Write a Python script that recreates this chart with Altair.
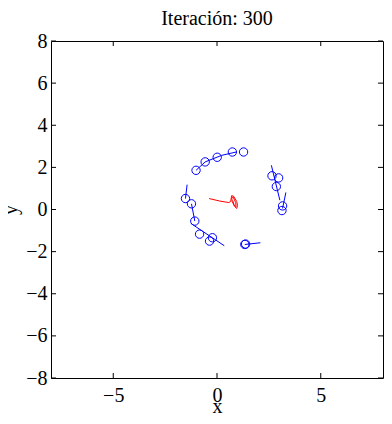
import altair as alt
import pandas as pd

# Agent positions (circles)
circ_x = [-1.01, -0.57, 0.01, 0.74, 1.28,
          2.65, 2.97, 2.86, 3.16, 3.13,
          -1.52, -1.23, -1.07, -0.84, -0.36, -0.22,
          1.34, 1.38]
circ_y = [1.86, 2.26, 2.48, 2.73, 2.73,
          1.60, 1.50, 1.09, 0.17, -0.05,
          0.52, 0.27, -0.55, -1.17, -1.50, -1.34,
          -1.66, -1.64]

# Heading / trail segments
seg_x0 = [-1.01, -0.57, 0.22, 2.62, 3.32, -1.44, -1.23, -1.26, 1.34]
seg_y0 = [1.86, 2.26, 2.57, 2.10, 0.81, 1.18, 0.27, -0.66, -1.66]
seg_x1 = [-0.57, 0.22, 0.93, 3.03, 3.16, -1.52, -1.07, 0.35, 2.09]
seg_y1 = [2.26, 2.57, 2.73, 0.44, 0.05, 0.52, -0.55, -1.72, -1.58]

# Red trajectory
traj_x = [-0.38, 0.14, 0.57, 0.66, 0.69, 0.71, 0.81, 0.95, 0.99, 0.95, 0.85,
          0.73, 0.71, 0.78, 0.90, 0.92, 0.83, 0.76]
traj_y = [0.52, 0.40, 0.33, 0.38, 0.57, 0.66, 0.62, 0.38, 0.19, 0.05, 0.14,
          0.38, 0.57, 0.59, 0.33, 0.14, 0.19, 0.43]

x_ticks = [-5, 0, 5]
y_ticks = [-8, -6, -4, -2, 0, 2, 4, 6, 8]

W, H = 332, 337
FONT = "Liberation Serif"
TL = 5

xs = alt.Scale(domain=[-8, 8], nice=False, zero=False)
ys = alt.Scale(domain=[-8, 8], nice=False, zero=False)

circ_df = pd.DataFrame({"x": circ_x, "y": circ_y})
seg_df = pd.DataFrame({"x": seg_x0, "y": seg_y0, "x2": seg_x1, "y2": seg_y1})
traj_df = pd.DataFrame({"x": traj_x, "y": traj_y, "o": list(range(len(traj_x)))})
xt_df = pd.DataFrame({"t": x_ticks})
yt_df = pd.DataFrame({"t": y_ticks})

xaxis = alt.Axis(values=x_ticks, ticks=False, tickSize=0, domain=False, grid=False,
                 labelFont=FONT, labelFontSize=20, labelColor="black", labelPadding=7,
                 title="x", titleFont=FONT, titleFontSize=20, titleFontWeight="normal",
                 titleColor="black", titlePadding=-9)
yaxis = alt.Axis(values=y_ticks, ticks=False, tickSize=0, domain=False, grid=False,
                 labelFont=FONT, labelFontSize=20, labelColor="black", labelPadding=4,
                 title="y", titleFont=FONT, titleFontSize=20, titleFontWeight="normal",
                 titleColor="black", titlePadding=5)

segs = alt.Chart(seg_df).mark_rule(color="#0000ff", strokeWidth=1).encode(
    x=alt.X("x:Q", scale=xs, axis=xaxis),
    y=alt.Y("y:Q", scale=ys, axis=yaxis),
    x2="x2:Q", y2="y2:Q")

circles = alt.Chart(circ_df).mark_point(shape="circle", filled=False, color="#0000ff",
                                        size=70, strokeWidth=1, opacity=1).encode(
    x=alt.X("x:Q", scale=xs), y=alt.Y("y:Q", scale=ys))

traj = alt.Chart(traj_df).mark_line(color="#ff0000", strokeWidth=1).encode(
    x=alt.X("x:Q", scale=xs), y=alt.Y("y:Q", scale=ys), order="o:Q")

xt_bot = alt.Chart(xt_df).mark_rule(color="black").encode(
    x=alt.X("t:Q", scale=xs), y=alt.value(H), y2=alt.value(H - TL))
xt_top = alt.Chart(xt_df).mark_rule(color="black").encode(
    x=alt.X("t:Q", scale=xs), y=alt.value(0), y2=alt.value(TL))
yt_left = alt.Chart(yt_df).mark_rule(color="black").encode(
    y=alt.Y("t:Q", scale=ys), x=alt.value(0), x2=alt.value(TL))
yt_right = alt.Chart(yt_df).mark_rule(color="black").encode(
    y=alt.Y("t:Q", scale=ys), x=alt.value(W), x2=alt.value(W - TL))

chart = alt.layer(segs, circles, traj, xt_bot, xt_top, yt_left, yt_right).properties(
    width=W, height=H,
    title=alt.TitleParams("Iteración: 300", font=FONT, fontSize=20, fontWeight="normal",
                          color="black", offset=2),
    autosize=alt.AutoSizeParams(type="none"),
    padding={"left": 43, "top": 33, "right": 1, "bottom": 38},
    background="white",
).configure_view(stroke="black", strokeWidth=1)

chart.save("out.html", embed_options={"renderer": "svg", "actions": False})
